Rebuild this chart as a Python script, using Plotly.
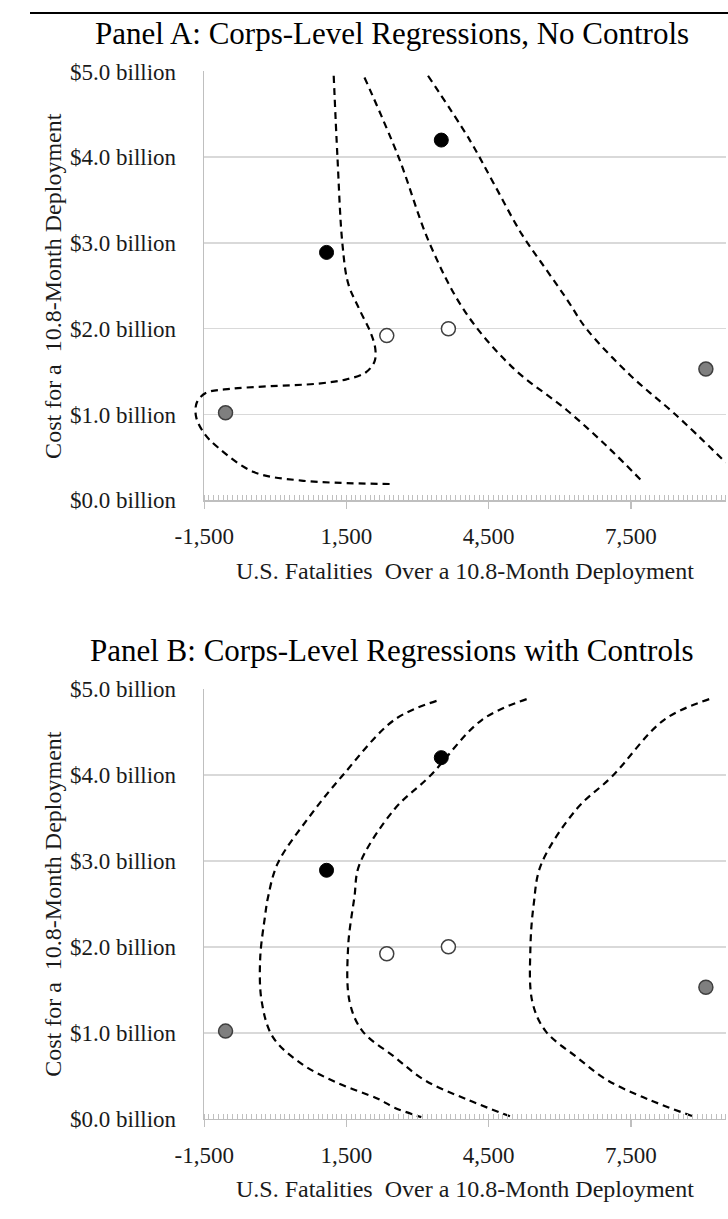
import plotly.graph_objects as go

# ---------------- data ----------------
x_tick_vals = [-1500, 1500, 4500, 7500]
x_tick_text = ["-1,500", "1,500", "4,500", "7,500"]
y_tick_vals = [0, 1, 2, 3, 4, 5]
y_tick_text = ["$0.0 billion", "$1.0 billion", "$2.0 billion",
               "$3.0 billion", "$4.0 billion", "$5.0 billion"]

black_x = [1080, 3500]
black_y = [2.89, 4.20]
white_x = [2350, 3650]
white_y = [1.92, 2.00]
gray_x = [-1050, 9080]
gray_y = [1.02, 1.53]

# Panel A dashed curves
a1_x = [1231, 1310, 1413, 1535, 1769, 2006, 2107, 2093, 1905, 1500, 893, -118,
        -927, -1468, -1656, -1670, -1500, -1197, -456, 549, 2410]
a1_y = [4.95, 4.00, 3.00, 2.53, 2.23, 1.96, 1.77, 1.62, 1.49, 1.41, 1.36, 1.33,
        1.30, 1.25, 1.14, 0.97, 0.78, 0.61, 0.33, 0.23, 0.19]
a2_x = [1880, 2600, 3250, 4000, 5000, 6150, 7050, 7720]
a2_y = [4.93, 4.00, 3.00, 2.20, 1.55, 1.05, 0.60, 0.23]
a3_x = [3220, 4100, 4600, 5200, 5700, 6153, 6560, 7500, 8438, 9500]
a3_y = [4.95, 4.20, 3.70, 3.10, 2.70, 2.34, 2.00, 1.45, 1.00, 0.44]

# Panel B dashed curves
b1_x = [3400, 2512, 1399, 700, 50, -153, -219, -320, -286, -51, 555, 1298, 2174, 2512, 3078]
b1_y = [4.86, 4.64, 3.98, 3.50, 2.97, 2.58, 2.35, 1.86, 1.36, 0.95, 0.64, 0.42, 0.23, 0.13, 0.02]
b2_x = [5300, 4360, 3250, 2512, 1769, 1668, 1535, 1567, 1838, 2512, 3150, 4020, 4950]
b2_y = [4.88, 4.64, 3.98, 3.60, 2.95, 2.58, 2.00, 1.36, 1.02, 0.72, 0.45, 0.23, 0.03]
b3_x = [9150, 8200, 7100, 6350, 5600, 5450, 5380, 5420, 5700, 6350, 7000, 7850, 8800]
b3_y = [4.88, 4.64, 3.98, 3.60, 2.95, 2.50, 2.00, 1.36, 1.02, 0.72, 0.45, 0.23, 0.03]

# ---------------- layout helpers ----------------
W, H = 728, 1219
PX_L, PX_R = 181.7, 725.7
A_TOP, A_BOT = 60.7, 498.5
B_TOP, B_BOT = 691.0, 1130.0
X0, X1 = -1500, 9500
units_per_px = (X1 - X0) / (PX_R - PX_L)


def py(v):
    return (H - v) / H


FONT = "Liberation Serif, Times New Roman, serif"
GRID = "#d9d9d9"
AXIS = "#bfbfbf"
TXT = "#1a1a1a"

fig = go.Figure()

dash_line = dict(color="black", width=2.2, dash="7px,5px", shape="spline", smoothing=1.0)


def add_markers(xa, ya):
    fig.add_trace(go.Scatter(x=black_x, y=black_y, mode="markers", xaxis=xa, yaxis=ya,
                             marker=dict(size=14, color="black", line=dict(color="black", width=1)),
                             showlegend=False, hoverinfo="skip"))
    fig.add_trace(go.Scatter(x=white_x, y=white_y, mode="markers", xaxis=xa, yaxis=ya,
                             marker=dict(size=14, color="white", line=dict(color="#404040", width=1.5)),
                             showlegend=False, hoverinfo="skip"))
    fig.add_trace(go.Scatter(x=gray_x, y=gray_y, mode="markers", xaxis=xa, yaxis=ya,
                             marker=dict(size=14, color="#7f7f7f", line=dict(color="#404040", width=1.5)),
                             showlegend=False, hoverinfo="skip"))


# dummy invisible trace to anchor subplot xy (the visible Panel A frame)
fig.add_trace(go.Scatter(x=[None], y=[None], xaxis="x", yaxis="y", showlegend=False))

# Panel A curves on an extended (invisible) subplot with identical scale
for cx, cy in [(a1_x, a1_y), (a2_x, a2_y), (a3_x, a3_y)]:
    fig.add_trace(go.Scatter(x=cx, y=cy, mode="lines", xaxis="x3", yaxis="y3",
                             line=dash_line, showlegend=False, hoverinfo="skip"))
add_markers("x3", "y3")

# Panel B
for cx, cy in [(b1_x, b1_y), (b2_x, b2_y), (b3_x, b3_y)]:
    fig.add_trace(go.Scatter(x=cx, y=cy, mode="lines", xaxis="x2", yaxis="y2",
                             line=dash_line, showlegend=False, hoverinfo="skip"))
add_markers("x2", "y2")

xaxis_common = dict(
    range=[X0, X1], showgrid=False, zeroline=False,
    showline=True, linecolor=AXIS, linewidth=1.5,
    tickmode="array", tickvals=x_tick_vals, ticktext=x_tick_text,
    ticks="outside", ticklen=7, tickcolor=AXIS, tickwidth=1.2,
    minor=dict(ticks="inside", tickmode="linear", tick0=-1500, dtick=100,
               ticklen=5, tickcolor=AXIS, tickwidth=1, showgrid=False),
    tickfont=dict(family=FONT, size=23, color=TXT),
    ticklabelstandoff=8,
    domain=[PX_L / W, PX_R / W], fixedrange=True,
)
yaxis_common = dict(
    range=[0, 5], showgrid=True, gridcolor=GRID, gridwidth=1.5, zeroline=False,
    showline=True, linecolor=AXIS, linewidth=1.5, ticks="",
    tickmode="array", tickvals=y_tick_vals, ticktext=y_tick_text,
    tickfont=dict(family=FONT, size=23, color=TXT),
    ticklabelstandoff=22, fixedrange=True,
)

ext_px = 20
ext_top = 12
fig.update_layout(
    width=W, height=H,
    margin=dict(l=0, r=0, t=0, b=0),
    paper_bgcolor="white", plot_bgcolor="rgba(0,0,0,0)",
    xaxis=dict(**xaxis_common, anchor="y"),
    yaxis=dict(**yaxis_common, domain=[py(A_BOT), py(A_TOP)], anchor="x"),
    xaxis2=dict(**xaxis_common, anchor="y2"),
    yaxis2=dict(**yaxis_common, domain=[py(B_BOT), py(B_TOP)], anchor="x2"),
    xaxis3=dict(range=[X0 - ext_px * units_per_px, X1], domain=[(PX_L - ext_px) / W, PX_R / W],
                visible=False, anchor="y3", fixedrange=True),
    yaxis3=dict(range=[0, 5 + ext_top * 5 / (A_BOT - A_TOP)], domain=[py(A_BOT), py(A_TOP - ext_top)],
                visible=False, anchor="x3", fixedrange=True),
    showlegend=False,
)

ann_font_title = dict(family=FONT, size=31, color="black")
ann_font_axis = dict(family=FONT, size=24, color=TXT)
panel_titles = ["Panel A: Corps-Level Regressions, No Controls",
                "Panel B: Corps-Level Regressions with Controls"]
x_title = "U.S. Fatalities  Over a 10.8-Month Deployment"
y_title = "Cost for a  10.8-Month Deployment"

for title, top, bot, tcy in [(panel_titles[0], A_TOP, A_BOT, 22), (panel_titles[1], B_TOP, B_BOT, 652)]:
    fig.add_annotation(text=title, xref="paper", yref="paper", x=378 / W, y=py(tcy),
                       xanchor="center", yanchor="middle", showarrow=False, font=ann_font_title)
    fig.add_annotation(text=x_title, xref="paper", yref="paper", x=(PX_L + PX_R) / 2 / W,
                       y=py(bot + 72), xanchor="center", yanchor="middle", showarrow=False,
                       font=ann_font_axis)
    fig.add_annotation(text=y_title, xref="paper", yref="paper", x=24 / W,
                       y=py((top + bot) / 2), xanchor="center", yanchor="middle",
                       textangle=-90, showarrow=False, font=ann_font_axis)

# thin black rule at the very top of the page
fig.add_shape(type="line", xref="paper", yref="paper", x0=0, x1=1, y0=py(1), y1=py(1),
              line=dict(color="black", width=2))

fig.write_html("out.html",
               config={"displayModeBar": False, "staticPlot": True},
               post_script="document.body.style.margin='0px';document.body.style.overflow='hidden';")
